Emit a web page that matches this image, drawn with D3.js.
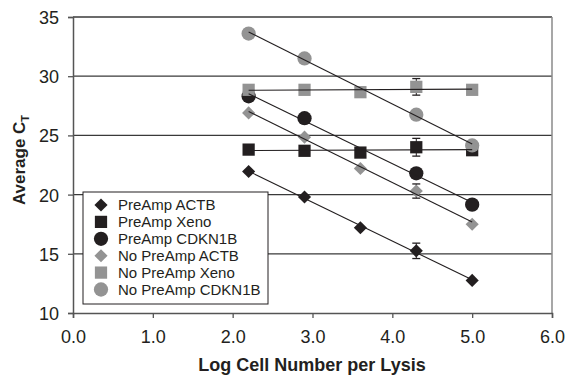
<!DOCTYPE html>
<html>
<head>
<meta charset="utf-8">
<script src="https://cdn.jsdelivr.net/npm/d3@7"></script>
<style>
  body { margin: 0; background: #fff; }
  svg { display: block; font-family: 'Liberation Sans', Arial, sans-serif; }
</style>
</head>
<body>
<svg id="chart" width="578" height="378"></svg>
<script>
// log cell number per lysis
const xValues = [2.2, 2.9, 3.6, 4.3, 5.0];

const seriesNames = [
  'PreAmp ACTB',
  'PreAmp Xeno',
  'PreAmp CDKN1B',
  'No PreAmp ACTB',
  'No PreAmp Xeno',
  'No PreAmp CDKN1B',
];

// average CT per series (same order as seriesNames); null = no point shown
const preAmpActb = [21.95, 19.8, 17.2, 15.25, 12.75];
const preAmpXeno = [23.8, 23.7, 23.55, 24.0, 23.75];
const preAmpCdkn1b = [28.3, 26.45, null, 21.8, 19.15];
const noPreAmpActb = [26.9, 24.85, 22.2, 20.3, 17.5];
const noPreAmpXeno = [28.85, 28.85, 28.65, 29.1, 28.85];
const noPreAmpCdkn1b = [33.6, 31.5, null, 26.75, 24.15];

// error bars (only the 4.3 point shows them)
const preAmpActbErr = [0, 0, 0, 0.65, 0];
const preAmpXenoErr = [0, 0, 0, 0.75, 0];
const noPreAmpActbErr = [0, 0, 0, 0.6, 0];
const noPreAmpXenoErr = [0, 0, 0, 0.7, 0];

const seriesShapes = ['diamond', 'square', 'circle', 'diamond', 'square', 'circle'];
const seriesColors = ['#231f20', '#231f20', '#231f20', '#939393', '#939393', '#939393'];

const xTicks = [0, 1, 2, 3, 4, 5, 6];
const yTicks = [10, 15, 20, 25, 30, 35];

const series = [
  { values: preAmpActb, err: preAmpActbErr },
  { values: preAmpXeno, err: preAmpXenoErr },
  { values: preAmpCdkn1b, err: null },
  { values: noPreAmpActb, err: noPreAmpActbErr },
  { values: noPreAmpXeno, err: noPreAmpXenoErr },
  { values: noPreAmpCdkn1b, err: null },
].map((s, i) => ({
  name: seriesNames[i],
  shape: seriesShapes[i],
  color: seriesColors[i],
  points: xValues
    .map((x, j) => ({ x, y: s.values[j], e: s.err ? s.err[j] : 0 }))
    .filter((p) => p.y != null),
}));

const svg = d3.select('#chart');
const x = d3.scaleLinear().domain([0, 6]).range([73, 552]);
const y = d3.scaleLinear().domain([10, 35]).range([313, 17]);

const symbolFor = (shape) => {
  if (shape === 'diamond') return d3.symbol().type(d3.symbolDiamond2).size(110);
  if (shape === 'square') return d3.symbol().type(d3.symbolSquare).size(150);
  return d3.symbol().type(d3.symbolCircle).size(160);
};

// gridlines
svg.append('g')
  .selectAll('line')
  .data(yTicks.filter((d) => d > 10))
  .join('line')
  .attr('x1', x(0))
  .attr('x2', x(6))
  .attr('y1', (d) => y(d))
  .attr('y2', (d) => y(d))
  .attr('stroke', '#3a3a3a')
  .attr('stroke-width', 1.3);

// right border
svg.append('line')
  .attr('x1', x(6)).attr('x2', x(6))
  .attr('y1', y(35)).attr('y2', y(10))
  .attr('stroke', '#8a8a8a').attr('stroke-width', 1.5);

// axes
const xAxis = svg.append('g')
  .attr('transform', `translate(0,${y(10)})`)
  .call(d3.axisBottom(x).tickValues(xTicks).tickFormat(d3.format('.1f')).tickSize(5).tickPadding(12));
const yAxis = svg.append('g')
  .attr('transform', `translate(${x(0)},0)`)
  .call(d3.axisLeft(y).tickValues(yTicks).tickSize(5).tickPadding(9));

[xAxis, yAxis].forEach((a) => {
  a.select('.domain').attr('stroke', '#555').attr('stroke-width', 1.5);
  a.selectAll('.tick line').attr('stroke', '#555').attr('stroke-width', 1.3);
  a.selectAll('.tick text')
    .attr('font-size', 18)
    .attr('fill', '#231f20')
    .attr('font-family', "'Liberation Sans', Arial, sans-serif");
});
yAxis.selectAll('.tick text').attr('dy', '0.36em');

// error bars
const errG = svg.append('g');
series.forEach((s) => {
  s.points.filter((p) => p.e > 0).forEach((p) => {
    const cx = x(p.x);
    errG.append('line')
      .attr('x1', cx).attr('x2', cx)
      .attr('y1', y(p.y - p.e)).attr('y2', y(p.y + p.e))
      .attr('stroke', '#231f20').attr('stroke-width', 1);
    [p.y - p.e, p.y + p.e].forEach((v) => {
      errG.append('line')
        .attr('x1', cx - 4).attr('x2', cx + 4)
        .attr('y1', y(v)).attr('y2', y(v))
        .attr('stroke', '#231f20').attr('stroke-width', 1.3);
    });
  });
});

// markers
series.forEach((s) => {
  svg.append('g')
    .selectAll('path')
    .data(s.points)
    .join('path')
    .attr('d', symbolFor(s.shape))
    .attr('transform', (d) => `translate(${x(d.x)},${y(d.y)})`)
    .attr('fill', s.color);
});

// linear trend lines
series.forEach((s) => {
  const n = s.points.length;
  const mx = d3.mean(s.points, (d) => d.x);
  const my = d3.mean(s.points, (d) => d.y);
  const sxy = d3.sum(s.points, (d) => (d.x - mx) * (d.y - my));
  const sxx = d3.sum(s.points, (d) => (d.x - mx) ** 2);
  const slope = sxy / sxx;
  const x0 = s.points[0].x;
  const x1 = s.points[n - 1].x;
  svg.append('line')
    .attr('x1', x(x0)).attr('x2', x(x1))
    .attr('y1', y(my + slope * (x0 - mx)))
    .attr('y2', y(my + slope * (x1 - mx)))
    .attr('stroke', '#231f20')
    .attr('stroke-width', 1.1);
});

// legend
const legend = svg.append('g');
legend.append('rect')
  .attr('x', 83).attr('y', 192)
  .attr('width', 185).attr('height', 112)
  .attr('fill', '#fff')
  .attr('stroke', '#231f20')
  .attr('stroke-width', 1);
series.forEach((s, i) => {
  const ly = 205 + i * 16.9;
  legend.append('path')
    .attr('d', symbolFor(s.shape))
    .attr('transform', `translate(101,${ly})`)
    .attr('fill', s.color);
  legend.append('text')
    .attr('x', 118)
    .attr('y', ly)
    .attr('dy', '0.36em')
    .attr('font-size', 15)
    .attr('fill', '#231f20')
    .text(s.name);
});

// axis titles
svg.append('text')
  .attr('x', 312)
  .attr('y', 371)
  .attr('text-anchor', 'middle')
  .attr('font-size', 18)
  .attr('font-weight', 'bold')
  .attr('fill', '#231f20')
  .text('Log Cell Number per Lysis');

const yTitle = svg.append('text')
  .attr('transform', 'translate(25,160) rotate(-90)')
  .attr('text-anchor', 'middle')
  .attr('font-size', 17)
  .attr('font-weight', 'bold')
  .attr('fill', '#231f20');
yTitle.append('tspan').text('Average C');
yTitle.append('tspan').attr('font-size', 11).attr('dy', 4).text('T');
</script>
</body>
</html>
